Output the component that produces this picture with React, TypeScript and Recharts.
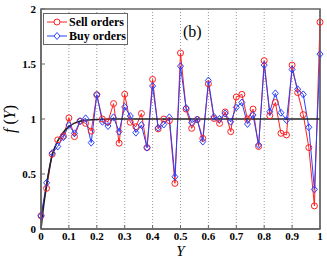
import { LineChart, Line, XAxis, YAxis, CartesianGrid, ReferenceArea } from 'recharts'

const Y_VALUES = [
  0, 0.02, 0.04, 0.06, 0.08, 0.1, 0.12, 0.14, 0.16, 0.18, 0.2,
  0.22, 0.24, 0.26, 0.28, 0.3, 0.32, 0.34, 0.36, 0.38, 0.4,
  0.42, 0.44, 0.46, 0.48, 0.5, 0.52, 0.54, 0.56, 0.58, 0.6,
  0.62, 0.64, 0.66, 0.68, 0.7, 0.72, 0.74, 0.76, 0.78, 0.8,
  0.82, 0.84, 0.86, 0.88, 0.9, 0.92, 0.94, 0.96, 0.98, 1
]

const SELL = [
  0.12, 0.37, 0.68, 0.81, 0.845, 1.01, 0.84, 0.98, 0.96, 0.89, 1.22,
  1.0, 0.975, 1.14, 0.78, 1.225, 0.97, 0.93, 1.05, 0.74, 1.36,
  0.91, 1.0, 0.985, 0.415, 1.6, 1.09, 0.915, 0.995, 0.824, 1.32,
  1.005, 0.96, 1.064, 0.885, 1.2, 1.224, 1.0, 1.09, 0.75, 1.53,
  1.03, 1.15, 0.87, 0.855, 1.49, 1.24, 1.04, 0.74, 0.21, 1.88
]

const BUY = [
  0.12, 0.42, 0.69, 0.75, 0.835, 0.945, 0.87, 0.98, 1.006, 0.785, 1.22,
  0.975, 0.936, 1.015, 0.885, 1.11, 1.027, 0.876, 0.945, 0.74, 1.3,
  0.92, 0.95, 1.015, 0.475, 1.48, 1.1, 0.967, 0.995, 0.795, 1.35,
  1.02, 1.0, 1.05, 0.975, 1.106, 1.15, 0.955, 1.036, 0.764, 1.49,
  1.066, 1.233, 1.057, 0.99, 1.45, 1.27, 1.224, 0.925, 0.36, 1.59
]

// theoretical f(Y)
const CURVE_Y = [0, 0.01, 0.02, 0.03, 0.04, 0.06, 0.08, 0.1, 0.12, 0.14, 0.17, 0.2, 0.25, 0.3, 1]
const CURVE_F = [0, 0.22, 0.4, 0.55, 0.67, 0.8, 0.88, 0.93, 0.962, 0.98, 0.99, 0.996, 1, 1, 1]

const X_TICKS = [0, 0.1, 0.2, 0.3, 0.4, 0.5, 0.6, 0.7, 0.8, 0.9, 1]
const Y_TICKS = [0, 0.5, 1, 1.5, 2]

const RED = '#ff2020'
const BLUE = '#2a40ff'
const FRAME = '#666'
const FONT = '"Liberation Serif", "Times New Roman", serif'

const data = Y_VALUES.map((y, i) => ({ y, sell: SELL[i], buy: BUY[i] }))
const curve = CURVE_Y.map((y, i) => ({ y, f: CURVE_F[i] }))

const tickStyle = { fontFamily: FONT, fontSize: 11, fontWeight: 'bold', fill: '#000' }

const Diamond = (props: any) => {
  const { cx, cy, index } = props
  if (cx == null || cy == null) return <g key={`d-${index}`} />
  return (
    <path
      key={`d-${index}`}
      d={`M${cx},${cy - 3.5}L${cx + 3},${cy}L${cx},${cy + 3.5}L${cx - 3},${cy}Z`}
      fill="none"
      stroke={BLUE}
      strokeWidth={1}
    />
  )
}

function LegendBox() {
  const row = (label: string, color: string, marker: 'circle' | 'diamond') => (
    <div style={{ display: 'flex', alignItems: 'center', height: 14 }}>
      <svg width={24} height={14}>
        <line x1={3} y1={7} x2={23} y2={7} stroke={color} strokeWidth={1} />
        {marker === 'circle' ? (
          <circle cx={13} cy={7} r={3} fill="#fff" stroke={color} />
        ) : (
          <path d="M13,3.5L16,7L13,10.5L10,7Z" fill="#fff" stroke={color} />
        )}
      </svg>
      <span style={{ fontFamily: FONT, fontSize: 12, fontWeight: 'bold', marginLeft: 1 }}>{label}</span>
    </div>
  )
  return (
    <div
      style={{
        position: 'absolute',
        left: 43,
        top: 13,
        width: 83,
        height: 29,
        background: '#fff',
        border: `1px solid ${FRAME}`,
        paddingTop: 1,
        boxSizing: 'content-box'
      }}
    >
      {row('Sell orders', RED, 'circle')}
      {row('Buy orders', BLUE, 'diamond')}
    </div>
  )
}

export default function App() {
  return (
    <div style={{ position: 'absolute', left: 0, top: 0, width: 327, height: 259, background: '#fff' }}>
      <LineChart width={327} height={259} margin={{ top: 9, right: 0, left: 0, bottom: 0 }}>
        <CartesianGrid horizontal={false} strokeDasharray="1 2" stroke="#999" />
        <XAxis
          dataKey="y"
          type="number"
          domain={[0, 1]}
          ticks={X_TICKS}
          tickFormatter={(v: number) => String(v)}
          allowDuplicatedCategory={false}
          height={30}
          tickSize={-4}
          tickMargin={7}
          tick={tickStyle}
          stroke={FRAME}
          axisLine={{ stroke: FRAME, strokeWidth: 1.5 }}
          label={{
            value: 'Y',
            position: 'insideBottom',
            offset: 3,
            style: { fontFamily: FONT, fontSize: 15, fontStyle: 'italic', fill: '#000' }
          }}
        />
        <XAxis
          xAxisId="top"
          orientation="top"
          type="number"
          domain={[0, 1]}
          ticks={X_TICKS}
          height={0}
          tickSize={-4}
          tick={false}
          stroke={FRAME}
        />
        <YAxis
          type="number"
          domain={[0, 2]}
          ticks={Y_TICKS}
          width={41}
          tickSize={-4}
          tickMargin={9}
          tick={tickStyle}
          stroke={FRAME}
          axisLine={{ stroke: FRAME, strokeWidth: 1.5 }}
          label={(props: any) => {
            const vb = props.viewBox || { x: 0, y: 9, width: 41, height: 220 }
            const x = vb.x + 15
            const y = vb.y + vb.height / 2
            return (
              <text
                x={x}
                y={y}
                transform={`rotate(-90 ${x} ${y})`}
                textAnchor="middle"
                style={{ fontFamily: FONT, fontSize: 16, fill: '#000' }}
              >
                <tspan fontStyle="italic">f</tspan>
                <tspan> (</tspan>
                <tspan fontStyle="italic">Y</tspan>
                <tspan>)</tspan>
              </text>
            )
          }}
        />
        <YAxis
          yAxisId="right"
          orientation="right"
          type="number"
          domain={[0, 2]}
          ticks={Y_TICKS}
          width={7}
          tickSize={-4}
          tick={false}
          stroke={FRAME}
        />
        <ReferenceArea x1={0} x2={1} y1={0} y2={2} fill="none" stroke={FRAME} strokeWidth={1.5} />
        <Line
          data={data}
          dataKey="sell"
          stroke={RED}
          strokeWidth={1}
          dot={{ r: 3, stroke: RED, fill: 'none', strokeWidth: 1 }}
          isAnimationActive={false}
        />
        <Line
          data={data}
          dataKey="buy"
          stroke={BLUE}
          strokeWidth={1}
          dot={Diamond}
          isAnimationActive={false}
        />
        <Line
          data={curve}
          dataKey="f"
          type="monotone"
          stroke="#222"
          strokeWidth={1.5}
          dot={false}
          isAnimationActive={false}
        />
      </LineChart>
      <LegendBox />
      <div
        style={{
          position: 'absolute',
          left: 183,
          top: 22,
          fontFamily: FONT,
          fontSize: 16,
          lineHeight: '20px'
        }}
      >
        (b)
      </div>
    </div>
  )
}
